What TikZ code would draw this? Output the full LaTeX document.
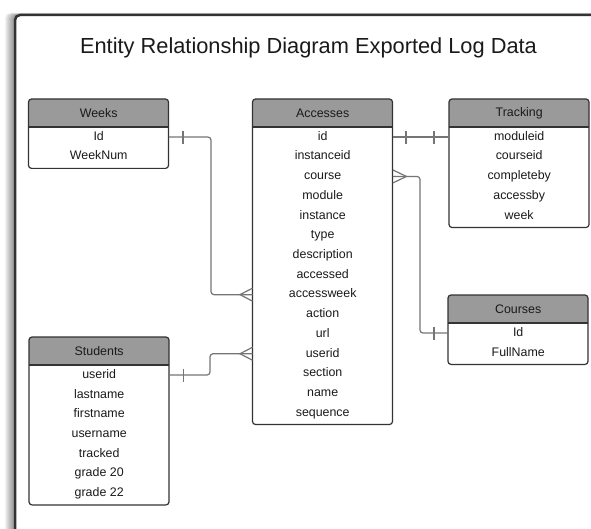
\documentclass[tikz,border=0pt]{standalone}
\usepackage{fontspec}
\setmainfont{Liberation Sans}
\usetikzlibrary{calc}
\definecolor{hdrgray}{HTML}{9A9A9A}
\definecolor{edgec}{HTML}{333333}
\definecolor{connc}{HTML}{757575}
\definecolor{txtc}{HTML}{1A1A1A}
\tikzset{
  hdr/.style={minimum width=140pt, minimum height=28pt, inner sep=0pt, font=\fontsize{12.4}{14}\selectfont, text=txtc},
  rowc/.style={minimum width=140pt, minimum height=19.7pt, inner sep=0pt, text height=9pt, text depth=2.5pt, font=\fontsize{12.4}{14}\selectfont, text=txtc},
  conn/.style={draw=connc, line width=1.2pt, rounded corners=3pt},
  crow/.style={draw=connc, line width=1.2pt, sharp corners},
  boxline/.style={draw=edgec, line width=1.2pt},
}
\newcommand\erbox[6]{% name, x, y, title, n rows, rows
  \fill[hdrgray] (#2,#3+28) [rounded corners=3pt] -- (#2,#3) -- (#2+140,#3) [sharp corners] -- (#2+140,#3+28) -- cycle;
  \node[hdr, anchor=north west] (#1) at (#2,#3) {#4};
  \foreach \r [count=\i] in {#6} {
    \node[rowc, anchor=north west] (#1-\i) at (#2, {#3+28+(\i-1)*19.7}) {\r};
  }
  \draw[boxline] (#2,#3+28) -- ++(140,0);
  \draw[boxline, rounded corners=3pt] (#2,#3) rectangle ++(140, {28+#5*19.7+2});
}
\begin{document}
\begin{tikzpicture}[x=1pt,y=-1pt]
\useasboundingbox (0,0) rectangle (591,529);
\begin{scope}
  \clip (0,0) rectangle (591,529);
  \foreach \k in {1,...,10} {
    \fill[black, opacity=0.05, rounded corners=5pt] (15-\k, 15-0.2*\k) rectangle (640,600);
  }
  \draw[draw=edgec, line width=2.5pt, fill=white, rounded corners=5pt] (15,15) rectangle (640,600);
\end{scope}

\node[font=\fontsize{21.8}{26}\selectfont, text=txtc] (title) at (308.5,47.5) {Entity Relationship Diagram Exported Log Data};

\erbox{wk}{28.5}{99}{Weeks}{2}{Id,WeekNum}
\erbox{acc}{252.5}{99}{Accesses}{15}{id,instanceid,course,module,instance,type,description,accessed,accessweek,action,url,userid,section,name,sequence}
\erbox{trk}{449}{99}{Tracking}{5}{moduleid,courseid,completeby,accessby,week}
\erbox{crs}{448}{295}{Courses}{2}{Id,FullName}
\erbox{stu}{29}{337}{Students}{7}{userid,lastname,firstname,username,tracked,grade 20,grade 22}

% Weeks.Id -> Accesses.accessweek
\coordinate (wkx) at (211,0);
\draw[conn] (wk-1.east) -| (wkx |- acc-9.west) -- (acc-9.west);
\draw[crow] ($(wk-1.east)+(14,-6.5)$) -- ++(0,13);
\draw[crow] ($(acc-9.west)+(0,-6.5)$) -- ($(acc-9.west)+(-12.5,0)$) -- ($(acc-9.west)+(0,6.5)$);

% Students.userid -> Accesses.userid
\coordinate (stx) at (210,0);
\draw[conn] (stu-1.east) -| (stx |- acc-12.west) -- (acc-12.west);
\draw[crow] ($(stu-1.east)+(14,-6.5)$) -- ++(0,13);
\draw[crow] ($(acc-12.west)+(0,-6.5)$) -- ($(acc-12.west)+(-12.5,0)$) -- ($(acc-12.west)+(0,6.5)$);

% Accesses.id -> Tracking.moduleid
\draw[conn] (acc-1.east) -- (trk-1.west);
\draw[crow] ($(acc-1.east)+(13,-6.5)$) -- ++(0,13);
\draw[crow] ($(trk-1.west)+(-15,-6.5)$) -- ++(0,13);

% Accesses.course -> Courses.Id
\coordinate (cox) at (420,0);
\draw[conn] (acc-3.east) -| (cox |- crs-1.west) -- (crs-1.west);
\draw[crow] ($(acc-3.east)+(0,-6.5)$) -- ($(acc-3.east)+(13.5,0)$) -- ($(acc-3.east)+(0,6.5)$);
\draw[crow] ($(crs-1.west)+(-14,-6.5)$) -- ++(0,13);
\end{tikzpicture}
\end{document}
